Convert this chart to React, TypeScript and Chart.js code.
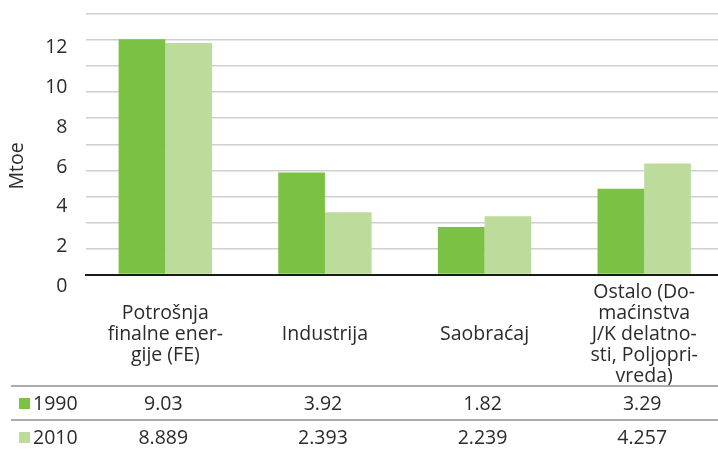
import React, { useEffect, useRef } from "react";
import { Chart, registerables } from "chart.js";

Chart.register(...registerables);

// ---- data ----
const categories: string[][] = [
  ["Potrošnja", "finalne ener-", "gije (FE)"],
  ["Industrija"],
  ["Saobraćaj"],
  ["Ostalo (Do-", "maćinstva", "J/K delatno-", "sti, Poljopri-", "vreda)"],
];
const seriesNames = ["1990", "2010"];
const values1990 = [9.03, 3.92, 1.82, 3.29];
const values2010 = [8.889, 2.393, 2.239, 4.257];
const tableRow1990 = ["9.03", "3.92", "1.82", "3.29"];
const tableRow2010 = ["8.889", "2.393", "2.239", "4.257"];
const yTickLabels = [0, 2, 4, 6, 8, 10, 12];
const yAxisTitle = "Mtoe";

// ---- styles ----
const FONT_FAMILY = "'Open Sans', 'DejaVu Sans', sans-serif";
const FONT_SIZE = 19.5;
const TEXT_COLOR = "#2b2b2b";
const COLOR_1990 = "#7bc143";
const COLOR_2010 = "#bddc9c";
const GRID_COLOR = "#cfcfcf";
const TABLE_LINE = "#8f8f8f";
const LABEL_OFFSET = 11.5;
const CANVAS_W = 724;
const CANVAS_H = 449;

const tablePlugin = {
  id: "dataTable",
  afterDraw(chart: any) {
    const { ctx, chartArea, scales } = chart;
    const x = scales.x;
    const yl = scales.yl;
    ctx.save();
    ctx.font = `${FONT_SIZE}px ${FONT_FAMILY}`;
    ctx.fillStyle = TEXT_COLOR;

    // axis title
    ctx.save();
    ctx.translate(17, yl.getPixelForValue(6) + LABEL_OFFSET - 1);
    ctx.rotate(-Math.PI / 2);
    ctx.textAlign = "center";
    ctx.textBaseline = "middle";
    ctx.fillText(yAxisTitle, 0, 0);
    ctx.restore();

    const base = chartArea.bottom;
    const line1 = base + 111.5;
    const line2 = base + 145.5;
    const rows = [
      { name: seriesNames[0], color: COLOR_1990, vals: tableRow1990, y: base + 128.5 },
      { name: seriesNames[1], color: COLOR_2010, vals: tableRow2010, y: base + 162.5 },
    ];

    ctx.strokeStyle = TABLE_LINE;
    ctx.lineWidth = 1.5;
    [line1, line2].forEach((ly) => {
      ctx.beginPath();
      ctx.moveTo(11, ly);
      ctx.lineTo(chart.width, ly);
      ctx.stroke();
    });

    ctx.textBaseline = "middle";
    rows.forEach((r) => {
      ctx.fillStyle = r.color;
      ctx.fillRect(19, r.y - 5, 11, 11);
      ctx.fillStyle = TEXT_COLOR;
      ctx.textAlign = "left";
      ctx.fillText(r.name, 33, r.y + 1);
      ctx.textAlign = "center";
      r.vals.forEach((v, i) => {
        ctx.fillText(v, x.getPixelForValue(i) - 2, r.y + 1);
      });
    });
    ctx.restore();
  },
};

const noPad = (s: any) => {
  s.paddingTop = 0;
  s.paddingBottom = 0;
  s.paddingLeft = 0;
  s.paddingRight = 0;
};

export default function App() {
  const canvasRef = useRef<HTMLCanvasElement | null>(null);

  useEffect(() => {
    if (!canvasRef.current) return;
    const font = { family: FONT_FAMILY, size: FONT_SIZE, lineHeight: 1.07 };
    const chart = new Chart(canvasRef.current, {
      type: "bar",
      data: {
        labels: categories,
        datasets: [
          {
            label: seriesNames[0],
            data: values1990,
            backgroundColor: COLOR_1990,
            borderWidth: 0,
            barPercentage: 1,
            categoryPercentage: 0.585,
          },
          {
            label: seriesNames[1],
            data: values2010,
            backgroundColor: COLOR_2010,
            borderWidth: 0,
            barPercentage: 1,
            categoryPercentage: 0.585,
          },
        ],
      },
      options: {
        responsive: false,
        animation: false,
        layout: { padding: { top: 14, right: 0, bottom: 0, left: 0 } },
        plugins: {
          legend: { display: false },
          tooltip: { enabled: false },
        },
        scales: {
          x: {
            z: 1,
            grid: { display: false, drawTicks: false },
            border: { display: true, color: "#1a1a1a", width: 2 },
            ticks: {
              font,
              color: TEXT_COLOR,
              padding: 18,
              crossAlign: "center",
              maxRotation: 0,
              autoSkip: false,
            },
            afterFit: (s: any) => {
              s.height = CANVAS_H - 274.5;
              noPad(s);
            },
          },
          y: {
            position: "left",
            min: 0,
            max: 10,
            ticks: { display: false, stepSize: 1 },
            grid: {
              drawTicks: false,
              lineWidth: 1.5,
              color: (c: any) => (c.tick && c.tick.value === 0 ? "rgba(0,0,0,0)" : GRID_COLOR),
            },
            border: { display: false },
            afterFit: (s: any) => {
              s.width = 0;
              noPad(s);
            },
          },
          yl: {
            type: "linear",
            position: "left",
            min: 0,
            max: 13.13,
            grid: { display: false, drawTicks: false },
            border: { display: false },
            ticks: {
              font,
              color: TEXT_COLOR,
              padding: 18,
              labelOffset: LABEL_OFFSET,
              callback: (v: any) => String(v),
            },
            afterBuildTicks: (s: any) => {
              s.ticks = yTickLabels.map((v) => ({ value: v }));
            },
            afterFit: (s: any) => {
              s.width = 85.5;
              noPad(s);
            },
          },
        },
      },
      plugins: [tablePlugin],
    } as any);
    return () => chart.destroy();
  }, []);

  return (
    <div
      style={{
        position: "fixed",
        left: 0,
        top: 0,
        width: 718,
        height: 449,
        overflow: "hidden",
        background: "#fff",
      }}
    >
      <canvas ref={canvasRef} width={CANVAS_W} height={CANVAS_H} style={{ display: "block" }} />
    </div>
  );
}
